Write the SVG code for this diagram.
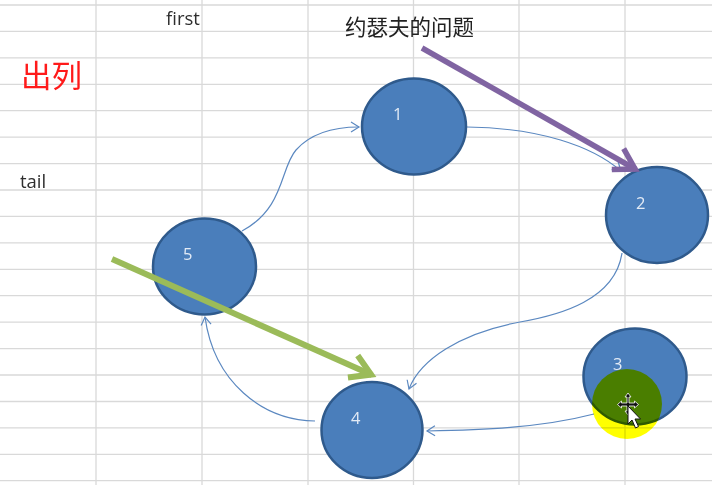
<svg xmlns="http://www.w3.org/2000/svg" width="712" height="485" viewBox="0 0 712 485">
<style>
.grid line{stroke:#d9d9d9;stroke-width:1.3}
.node ellipse{fill:#4a7ebb;stroke:#2f5a8c;stroke-width:2.5}
.node text{font-family:"Open Sans","Liberation Sans",sans-serif;font-size:16.5px;fill:#e3ebf6}
.conn{fill:none;stroke:#5b88c0;stroke-width:1.2}
.lbl{font-family:"Open Sans","Liberation Sans",sans-serif;font-size:18.5px;fill:#2e2e2e}
</style>
<defs>
<marker id="thin" markerUnits="userSpaceOnUse" viewBox="-10 -7 12 14" refX="0" refY="0" markerWidth="12" markerHeight="14" orient="auto" overflow="visible">
<path d="M-8,-5 L0,0 L-8,5" fill="none" stroke="#5b88c0" stroke-width="1.2"/>
</marker>
<marker id="purpleHead" markerUnits="userSpaceOnUse" viewBox="-30 -20 35 40" refX="0" refY="0" markerWidth="35" markerHeight="40" orient="auto" overflow="visible">
<path d="M-21,-12 L-1,0 L-21,12" fill="none" stroke="#8064a2" stroke-width="5.5" stroke-linejoin="miter"/>
</marker>
<marker id="greenHead" markerUnits="userSpaceOnUse" viewBox="-30 -20 35 40" refX="0" refY="0" markerWidth="35" markerHeight="40" orient="auto" overflow="visible">
<path d="M-21,-12 L-1,0 L-21,12" fill="none" stroke="#9bbb59" stroke-width="6" stroke-linejoin="miter"/>
</marker>
</defs>
<rect width="712" height="485" fill="#ffffff"/>
<g class="grid">
<line x1="96" y1="0" x2="96" y2="485"/>
<line x1="202" y1="0" x2="202" y2="485"/>
<line x1="308" y1="0" x2="308" y2="485"/>
<line x1="413.5" y1="0" x2="413.5" y2="485"/>
<line x1="519" y1="0" x2="519" y2="485"/>
<line x1="625" y1="0" x2="625" y2="485"/>
<line x1="0" y1="5" x2="712" y2="5"/>
<line x1="0" y1="31.4" x2="712" y2="31.4"/>
<line x1="0" y1="57.9" x2="712" y2="57.9"/>
<line x1="0" y1="84.3" x2="712" y2="84.3"/>
<line x1="0" y1="110.7" x2="712" y2="110.7"/>
<line x1="0" y1="137.2" x2="712" y2="137.2"/>
<line x1="0" y1="163.6" x2="712" y2="163.6"/>
<line x1="0" y1="190" x2="712" y2="190"/>
<line x1="0" y1="216.4" x2="712" y2="216.4"/>
<line x1="0" y1="242.9" x2="712" y2="242.9"/>
<line x1="0" y1="269.3" x2="712" y2="269.3"/>
<line x1="0" y1="295.7" x2="712" y2="295.7"/>
<line x1="0" y1="322.2" x2="712" y2="322.2"/>
<line x1="0" y1="348.6" x2="712" y2="348.6"/>
<line x1="0" y1="375" x2="712" y2="375"/>
<line x1="0" y1="401.5" x2="712" y2="401.5"/>
<line x1="0" y1="427.9" x2="712" y2="427.9"/>
<line x1="0" y1="454.3" x2="712" y2="454.3"/>
<line x1="0" y1="480.7" x2="712" y2="480.7"/>
</g>
<text class="lbl" x="166" y="25">first</text>
<text class="lbl" x="20" y="188">tail</text>
<text x="345" y="35" font-family="'Noto Sans CJK SC','Noto Sans',sans-serif" font-size="21.5" fill="#222">约瑟夫的问题</text>
<text x="21" y="87" font-family="'Noto Sans CJK SC','Noto Sans',sans-serif" font-size="30.5" fill="#ff1a1a">出列</text>
<g id="connectors">
<path class="conn" d="M242,231 C285,208 280,168 296,150 C312,132 335,127 359,127" marker-end="url(#thin)"/>
<path class="conn" d="M467,127 C540,128 592,146 621,171" marker-end="url(#thin)"/>
<path class="conn" d="M622,253 C615,300 560,315 520,322 C460,333 420,360 409,389" marker-end="url(#thin)"/>
<path class="conn" d="M594,414 C540,428 480,430 427,431" marker-end="url(#thin)"/>
<path class="conn" d="M315,421 C262,420 214,382 205,317" marker-end="url(#thin)"/>
</g>
<g id="n1" class="node"><ellipse cx="414" cy="126.5" rx="52" ry="48"/><text x="393" y="120">1</text></g>
<g id="n2" class="node"><ellipse cx="657" cy="215" rx="51" ry="48"/><text x="636" y="209">2</text></g>
<g id="n3" class="node"><ellipse cx="635" cy="376.5" rx="51.5" ry="48"/><text x="613" y="370">3</text></g>
<g id="n4" class="node"><ellipse cx="372" cy="430" rx="50.5" ry="48"/><text x="351" y="424">4</text></g>
<g id="n5" class="node"><ellipse cx="204.5" cy="266.5" rx="51.5" ry="48"/><text x="183" y="260">5</text></g>
<g id="arrows">
<line x1="422" y1="48" x2="636" y2="169.5" stroke="#8064a2" stroke-width="5.5" marker-end="url(#purpleHead)"/>
<line x1="112" y1="259" x2="372" y2="375" stroke="#9bbb59" stroke-width="6" marker-end="url(#greenHead)"/>
</g>
<g id="cursor">
<circle cx="627" cy="404" r="35" fill="#ffff00" style="mix-blend-mode:multiply"/>
<g fill="#111" stroke="#fff" stroke-width="0.8">
<path d="M628,393 L631,397 L629,397 L629,403 L634.5,403 L634.5,401 L638.5,404.5 L634.5,408 L634.5,406 L629,406 L629,411 L631,411 L628,415 L625,411 L627,411 L627,406 L621.5,406 L621.5,408 L617.5,404.5 L621.5,401 L621.5,403 L627,403 L627,397 L625,397 Z"/>
<path d="M628,406 L628,424 L632,420 L635.5,428 L638.5,426.5 L635,419 L640.5,419 Z" fill="#fff" stroke="#111" stroke-width="1"/>
</g>
</g>
</svg>
